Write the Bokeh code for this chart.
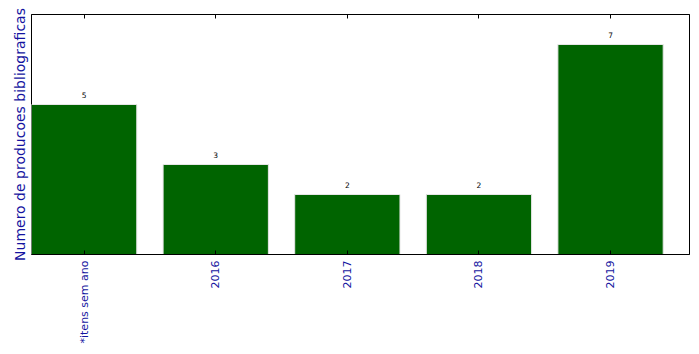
from bokeh.plotting import figure
from bokeh.models import ColumnDataSource, FixedTicker, LinearAxis, Title, Range1d
from bokeh.embed import file_html
from bokeh.resources import INLINE
from bokeh.core.properties import value

categories = ["*itens sem ano", "2016", "2017", "2018", "2019"]
counts = [5, 3, 2, 2, 7]
positions = list(range(len(categories)))

BLUE = "#1414a0"
FONT = "DejaVu Sans"

src = ColumnDataSource(dict(x=positions, top=counts, lab=[str(c) for c in counts]))

p = figure(output_backend="svg", toolbar_location=None,
           width=699, height=354,
           frame_width=658, frame_height=240,
           min_border_left=31, min_border_right=10, min_border_top=14, min_border_bottom=100,
           x_range=Range1d(-0.4, 4.6), y_range=Range1d(0, 8),
           x_axis_location=None, y_axis_location=None)
p.background_fill_color = "white"
p.border_fill_color = "white"
p.grid.visible = False
p.outline_line_color = "black"
p.outline_line_width = 1
p.outline_line_alpha = 1

p.vbar(x="x", top="top", width=0.8, bottom=0, source=src,
       fill_color="#006400", line_color="#e6e6e6", line_width=1)

p.text(x="x", y="top", text="lab", source=src, text_align="center",
       text_baseline="bottom", y_offset=-7, text_font=value(FONT),
       text_font_size="7.5px", text_color="black")

ticker = FixedTicker(ticks=positions)
overrides = {i: c for i, c in enumerate(categories)}

xb = LinearAxis(ticker=ticker, major_label_overrides=overrides,
                major_label_orientation=1.5708,
                major_label_text_font=FONT, major_label_text_font_size="11px",
                major_label_text_color=BLUE, major_label_standoff=6,
                major_tick_in=4, major_tick_out=0, minor_tick_line_color=None,
                axis_line_color="black")
p.add_layout(xb, "below")

xt = LinearAxis(ticker=ticker, major_label_text_font_size="1px",
                major_label_text_color=None,
                major_tick_in=4, major_tick_out=0, minor_tick_line_color=None,
                axis_line_color="black", major_label_standoff=0)
p.add_layout(xt, "above")

p.add_layout(Title(text="Numero de producoes bibliograficas", align="center",
                   text_font=FONT, text_font_size="14px", text_font_style="normal",
                   text_color=BLUE, standoff=8, offset=0), "left")

open("out.html", "w").write(file_html(p, INLINE))
